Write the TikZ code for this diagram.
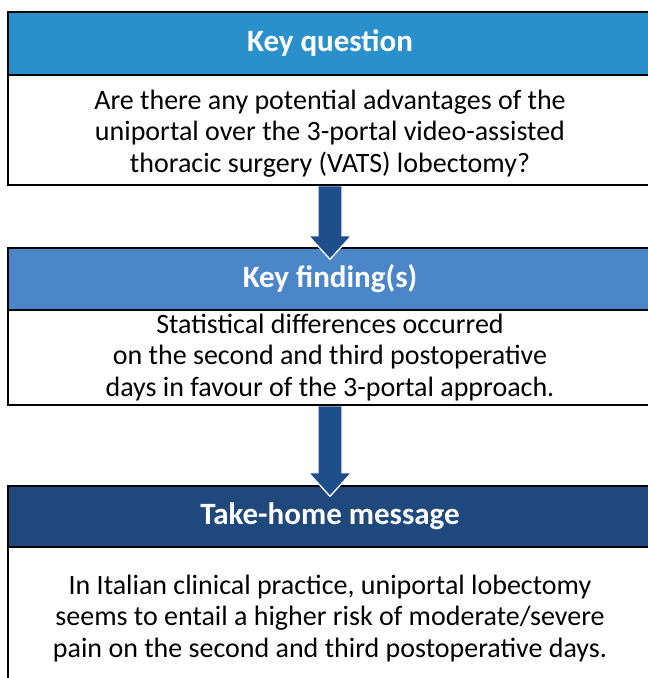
\documentclass[tikz,border=0pt]{standalone}
\usepackage{fontspec}
\setmainfont{Carlito}
\usetikzlibrary{calc}
\definecolor{hdA}{HTML}{2A90CC}
\definecolor{hdB}{HTML}{4A86C8}
\definecolor{hdC}{HTML}{1F497D}
\definecolor{arr}{HTML}{1F4E8C}
\begin{document}
\begin{tikzpicture}[x=1pt,y=1pt,
  hdr/.style={draw=black, line width=1.4pt, minimum width=644pt, minimum height=#1, inner sep=0pt,
     font=\fontsize{31}{36}\selectfont\bfseries, text=white},
  bodybox/.style={draw=black, line width=1.4pt, minimum width=644pt, minimum height=#1, inner sep=0pt,
     align=center, font=\fontsize{28}{31.5}\selectfont, fill=white},
  arrowshape/.style={fill=arr, draw=white, line width=1.3pt, line join=miter}]
\useasboundingbox (0,0) rectangle (648,-678);
\begin{scope}
\clip (0,0) rectangle (648,-678);
\node[hdr=63pt, fill=hdA] (h1) at (330,-43.5) {Key question};
\node[bodybox=110pt] (t1) at (330,-130) {\rule{0pt}{26pt}Are there any potential advantages of the\\uniportal over the 3-portal video-assisted\\thoracic surgery (VATS) lobectomy?};
\node[hdr=62pt, fill=hdB] (h2) at (330,-279) {Key finding(s)};
\node[bodybox=95pt] (t2) at (330,-357.5) {Statistical differences occurred\\on the second and third postoperative\\days in favour of the 3-portal approach.};
\node[hdr=61pt, fill=hdC] (h3) at (330,-516.5) {Take-home message};
\node[bodybox=143pt] (t3) at (330,-618.5) {In Italian clinical practice, uniportal lobectomy\\seems to entail a higher risk of moderate/severe\\pain on the second and third postoperative days.};
\fill[arrowshape] ($(t1.south)+(-12,-0.7)$) -- ($(t1.south)+(-12,-50)$) -- ($(t1.south)+(-21.5,-50)$)
   -- ($(h2.north)+(0,-12)$) -- ($(t1.south)+(21.5,-50)$) -- ($(t1.south)+(12,-50)$) -- ($(t1.south)+(12,-0.7)$);
\fill[arrowshape] ($(t2.south)+(-12,-0.7)$) -- ($(t2.south)+(-12,-67)$) -- ($(t2.south)+(-21.5,-67)$)
   -- ($(h3.north)+(0,-11)$) -- ($(t2.south)+(21.5,-67)$) -- ($(t2.south)+(12,-67)$) -- ($(t2.south)+(12,-0.7)$);
\end{scope}
\end{tikzpicture}
\end{document}
